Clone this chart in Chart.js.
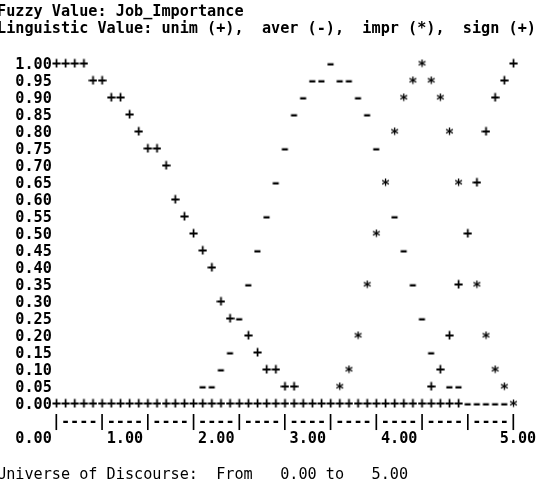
<!DOCTYPE html>
<html>
<head>
<meta charset="utf-8">
<script src="https://cdn.jsdelivr.net/npm/chart.js@4.4.1/dist/chart.umd.min.js"></script>
<style>
  html, body { margin: 0; padding: 0; background: #fff; overflow: hidden; }
  #wrap { position: absolute; left: -3px; top: 2px; width: 550px; height: 486px; }
</style>
</head>
<body>
<div id="wrap"><canvas id="fz" width="550" height="486"></canvas></div>
<script>
// universe of discourse, one text column per 0.1
var xSteps = [0.0, 0.1, 0.2, 0.3, 0.4, 0.5, 0.6, 0.7, 0.8, 0.9,
              1.0, 1.1, 1.2, 1.3, 1.4, 1.5, 1.6, 1.7, 1.8, 1.9,
              2.0, 2.1, 2.2, 2.3, 2.4, 2.5, 2.6, 2.7, 2.8, 2.9,
              3.0, 3.1, 3.2, 3.3, 3.4, 3.5, 3.6, 3.7, 3.8, 3.9,
              4.0, 4.1, 4.2, 4.3, 4.4, 4.5, 4.6, 4.7, 4.8, 4.9, 5.0];

// membership grades (rows of 0.05)
var unim = [1, 1, 1, 1, .95, .95, .9, .9, .85, .8,
            .75, .75, .7, .6, .55, .5, .45, .4, .3, .25,
            .25, .2, .15, .1, .1, .05, .05, 0, 0, 0,
            0, 0, 0, 0, 0, 0, 0, 0, 0, 0,
            0, 0, 0, 0, 0, 0, 0, 0, 0, 0, 0];
var aver = [0, 0, 0, 0, 0, 0, 0, 0, 0, 0,
            0, 0, 0, 0, 0, 0, .05, .05, .1, .15,
            .25, .35, .45, .55, .65, .75, .85, .9, .95, .95,
            1, .95, .95, .9, .85, .75, .65, .55, .45, .35,
            .25, .15, .1, .05, .05, 0, 0, 0, 0, 0, 0];
var impr = [0, 0, 0, 0, 0, 0, 0, 0, 0, 0,
            0, 0, 0, 0, 0, 0, 0, 0, 0, 0,
            0, 0, 0, 0, 0, 0, 0, 0, 0, 0,
            0, .05, .1, .2, .35, .5, .65, .8, .9, .95,
            1, .95, .9, .8, .65, .5, .35, .2, .1, .05, 0];
var sign = [0, 0, 0, 0, 0, 0, 0, 0, 0, 0,
            0, 0, 0, 0, 0, 0, 0, 0, 0, 0,
            0, 0, 0, 0, 0, 0, 0, 0, 0, 0,
            0, 0, 0, 0, 0, 0, 0, 0, 0, 0,
            0, .05, .1, .2, .35, .5, .65, .8, .9, .95, 1];

// axis labels (spaces keep the text columns of the printout)
var xLabels = ['0.00     ', '1.00     ', '2.00     ', '3.00     ', '4.00     ', ' 5.00'];

//字体 & 字符格子
var MONO = "'DejaVu Sans Mono', monospace";
var FSIZE = 15.18;
var LINE = 17;
var CELL_W = 9, CELL_H = 17;

Chart.defaults.color = '#000';
Chart.defaults.font = { family: MONO, size: FSIZE, weight: 'bold', lineHeight: LINE + 'px' };

// one character as a point style, white cell so later sets overwrite earlier ones
function glyph(ch, dy, sx) {
    let c = document.createElement('canvas');
    c.width = CELL_W;
    c.height = CELL_H;
    let g = c.getContext('2d');
    g.fillStyle = '#fff';
    g.fillRect(0, 0, CELL_W, CELL_H);
    g.fillStyle = '#000';
    g.font = 'bold ' + FSIZE + 'px ' + MONO;
    g.textAlign = 'center';
    g.textBaseline = 'middle';
    g.translate(CELL_W / 2, CELL_H / 2 + (dy || 0));
    g.scale(sx || 1, 1);
    g.fillText(ch, 0, 0);
    return c;
}

function pts(arr) {
    return arr.map((v, i) => ({ x: xSteps[i], y: v }));
}

function set(label, arr, style, order) {
    return { label: label, data: pts(arr), pointStyle: style, order: order, clip: false, pointRadius: 4 };
}

var noGrid = { display: false, drawTicks: false };

var ctx = document.getElementById('fz').getContext('2d');
var fuzzyChart = new Chart(ctx, {
    type: 'scatter',
    data: {
        datasets: [
            set('unim', unim, glyph('+'), 4),
            set('aver', aver, glyph('-', 0, 1.3), 3),
            set('impr', impr, glyph('*', 3), 2),
            set('sign', sign, glyph('+'), 1)
        ]
    },
    options: {
        responsive: false,
        devicePixelRatio: 1,
        animation: false,
        events: [],
        layout: { padding: 0 },
        plugins: {
            legend: { display: false },
            tooltip: { enabled: false },
            title: {
                display: true,
                align: 'start',
                text: ['Fuzzy Value: Job_Importance',
                       'Linguistic Value: unim (+),  aver (-),  impr (*),  sign (+)'],
                padding: { top: 1.5, bottom: 27.5 }
            },
            subtitle: {
                display: true,
                position: 'bottom',
                align: 'start',
                text: 'Universe of Discourse:  From   0.00 to   5.00',
                padding: { top: 19, bottom: 4.5 }
            }
        },
        scales: {
            x: {
                type: 'linear', position: 'bottom', min: 0, max: 5,
                grid: noGrid, border: { display: false },
                ticks: {
                    stepSize: 0.1, autoSkip: false, maxRotation: 0, minRotation: 0,
                    padding: 8.5,
                    callback: (v, i) => (i % 5 === 0 ? '|' : '-')
                },
                afterFit: s => { s.height = 25.5; }
            },
            x2: {
                type: 'linear', position: 'bottom', min: 0, max: 5,
                grid: noGrid, border: { display: false },
                ticks: {
                    stepSize: 1, autoSkip: false, maxRotation: 0, minRotation: 0,
                    padding: 0,
                    callback: (v, i) => xLabels[i]
                },
                afterFit: s => { s.height = 17; }
            },
            y: {
                type: 'linear', position: 'left', min: 0, max: 1,
                grid: noGrid, border: { display: false },
                ticks: {
                    stepSize: 0.05, autoSkip: false, padding: 4.57,
                    callback: v => v.toFixed(2)
                },
                afterFit: s => { s.width = 59.4; }
            },
            // empty strip on the right, keeps the last column where the printout has it
            yr: {
                type: 'linear', position: 'right', min: 0, max: 1,
                grid: noGrid, border: { display: false },
                ticks: { display: false },
                afterFit: s => { s.width = 33.6; }
            }
        }
    }
});
</script>
</body>
</html>
